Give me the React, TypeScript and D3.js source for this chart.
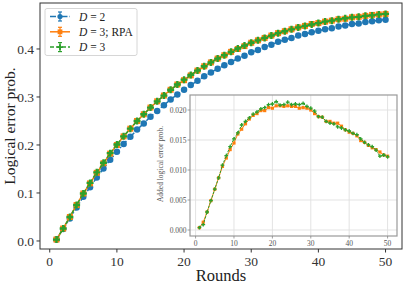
import React from "react";
import * as d3 from "d3";

// rounds 1..50
const rounds = d3.range(1, 51);

// main panel: logical error probability per round
const d2Values = [
  0.003, 0.025, 0.047, 0.070, 0.092, 0.112, 0.132, 0.151, 0.169, 0.186,
  0.202, 0.217, 0.232, 0.245, 0.259, 0.271, 0.283, 0.295, 0.305, 0.315,
  0.325, 0.334, 0.343, 0.351, 0.359, 0.366, 0.373, 0.380, 0.386, 0.393,
  0.398, 0.404, 0.409, 0.415, 0.419, 0.423, 0.428, 0.431, 0.435, 0.438,
  0.441, 0.443, 0.447, 0.449, 0.452, 0.453, 0.456, 0.458, 0.460, 0.461,
];
const d3RpaValues = [
  0.003, 0.026, 0.050, 0.075, 0.099, 0.120, 0.142, 0.162, 0.182, 0.200,
  0.218, 0.234, 0.250, 0.264, 0.278, 0.291, 0.303, 0.315, 0.326, 0.335,
  0.345, 0.355, 0.364, 0.372, 0.380, 0.387, 0.394, 0.400, 0.406, 0.413,
  0.418, 0.423, 0.428, 0.433, 0.437, 0.441, 0.445, 0.448, 0.452, 0.454,
  0.457, 0.459, 0.462, 0.463, 0.466, 0.467, 0.469, 0.471, 0.472, 0.473,
];
const d3Values = [
  0.003, 0.026, 0.050, 0.075, 0.099, 0.121, 0.143, 0.163, 0.183, 0.201,
  0.218, 0.234, 0.250, 0.264, 0.278, 0.291, 0.303, 0.315, 0.326, 0.336,
  0.346, 0.355, 0.364, 0.372, 0.380, 0.387, 0.394, 0.401, 0.407, 0.413,
  0.418, 0.423, 0.428, 0.433, 0.437, 0.441, 0.445, 0.448, 0.451, 0.454,
  0.457, 0.459, 0.462, 0.464, 0.466, 0.467, 0.469, 0.470, 0.472, 0.473,
];

// inset: added logical error probability
const addedRpa = [
  0.0004, 0.0013, 0.0030, 0.0049, 0.0068, 0.0087, 0.0106, 0.0120, 0.0134, 0.0145,
  0.0160, 0.0168, 0.0177, 0.0185, 0.0191, 0.0194, 0.0199, 0.0199, 0.0204, 0.0203,
  0.0207, 0.0207, 0.0206, 0.0207, 0.0206, 0.0206, 0.0203, 0.0204, 0.0203, 0.0200,
  0.0194, 0.0189, 0.0188, 0.0181, 0.0181, 0.0178, 0.0178, 0.0173, 0.0167, 0.0163,
  0.0161, 0.0157, 0.0149, 0.0146, 0.0141, 0.0137, 0.0134, 0.0130, 0.0125, 0.0123,
];
const added = [
  0.0004, 0.0009, 0.0030, 0.0049, 0.0068, 0.0087, 0.0108, 0.0124, 0.0139, 0.0152,
  0.0162, 0.0175, 0.0181, 0.0187, 0.0193, 0.0197, 0.0202, 0.0204, 0.0209, 0.0210,
  0.0214, 0.0208, 0.0209, 0.0213, 0.0209, 0.0210, 0.0209, 0.0211, 0.0206, 0.0203,
  0.0198, 0.0189, 0.0188, 0.0181, 0.0178, 0.0177, 0.0172, 0.0170, 0.0167, 0.0165,
  0.0161, 0.0159, 0.0152, 0.0146, 0.0142, 0.0139, 0.0133, 0.0123, 0.0125, 0.0122,
];

const xTicks = [0, 10, 20, 30, 40, 50];
const yTicks = [0.0, 0.1, 0.2, 0.3, 0.4];
const insetYTicks = [0.0, 0.005, 0.01, 0.015, 0.02];

const BLUE = "#1f77b4";
const ORANGE = "#ff7f0e";
const GREEN = "#2ca02c";
const SERIF = "'Liberation Serif', 'DejaVu Serif', serif";

const W = 407;
const H = 285;

type Marker = "circle" | "square" | "plus";

const markerPath = (kind: Marker, s: number) => {
  const h = s / 2;
  if (kind === "square") return `M${-h},${-h}H${h}V${h}H${-h}Z`;
  if (kind === "plus") {
    const t = s / 6;
    return `M${-t},${-h}H${t}V${-t}H${h}V${t}H${t}V${h}H${-t}V${t}H${-h}V${-t}H${-t}Z`;
  }
  return d3.symbol(d3.symbolCircle, Math.PI * h * h)() as string;
};

const App: React.FC = () => {
  // main axes
  const x = d3.scaleLinear().domain([-1.45, 52.45]).range([40, 402]);
  const y = d3.scaleLinear().domain([-0.0167, 0.4958]).range([249, 3]);

  // inset axes
  const ix = d3.scaleLinear().domain([-1.45, 52.45]).range([190, 397]);
  const iy = d3.scaleLinear().domain([-0.001, 0.0225]).range([236, 95]);

  const mainSeries = [
    { name: "D2", values: d2Values, color: BLUE, dash: "6,2,1.5,2", marker: "circle" as Marker, size: 6.5 },
    { name: "D3RPA", values: d3RpaValues, color: ORANGE, dash: "", marker: "square" as Marker, size: 6 },
    { name: "D3", values: d3Values, color: GREEN, dash: "4,2", marker: "plus" as Marker, size: 7 },
  ];
  const insetSeries = [
    { name: "RPA", values: addedRpa, color: ORANGE, dash: "", marker: "square" as Marker, size: 3.2 },
    { name: "D3", values: added, color: GREEN, dash: "2.5,1.2", marker: "plus" as Marker, size: 3.8 },
  ];

  const mainLine = (vals: number[]) =>
    d3.line<number>().x((_, i) => x(rounds[i])).y((d) => y(d))(vals) as string;
  const insetLine = (vals: number[]) =>
    d3.line<number>().x((_, i) => ix(rounds[i])).y((d) => iy(d))(vals) as string;

  const legendItems = [
    { label: "2", extra: "", s: mainSeries[0] },
    { label: "3", extra: "; RPA", s: mainSeries[1] },
    { label: "3", extra: "", s: mainSeries[2] },
  ];

  return (
    <svg width={W} height={H} style={{ position: "absolute", left: 0, top: 0 }} fontFamily={SERIF}>
      <rect width={W} height={H} fill="white" />

      {/* main data */}
      {mainSeries.map((s) => (
        <g key={s.name}>
          <path d={mainLine(s.values)} fill="none" stroke={s.color} strokeWidth={1.5} strokeDasharray={s.dash} />
          {s.values.map((v, i) => (
            <path key={i} d={markerPath(s.marker, s.size)} transform={`translate(${x(rounds[i])},${y(v)})`} fill={s.color} />
          ))}
        </g>
      ))}

      {/* main axes frame */}
      <rect x={40} y={3} width={362} height={246} fill="none" stroke="#333" strokeWidth={1} />
      {xTicks.map((t) => (
        <g key={t} transform={`translate(${x(t)},249)`}>
          <line y2={3.5} stroke="#333" />
          <text y={17} textAnchor="middle" fontSize={13.5} fill="#333">{t}</text>
        </g>
      ))}
      {yTicks.map((t) => (
        <g key={t} transform={`translate(40,${y(t)})`}>
          <line x2={-3.5} stroke="#333" />
          <text x={-6} dy="0.35em" textAnchor="end" fontSize={13.5} fill="#333">{t.toFixed(1)}</text>
        </g>
      ))}
      <text x={221} y={281} textAnchor="middle" fontSize={16.5} fill="#222">Rounds</text>
      <text transform="translate(15,126) rotate(-90)" textAnchor="middle" fontSize={15.5} fill="#222">
        Logical error prob.
      </text>

      {/* legend */}
      <rect x={45} y={8.5} width={92} height={47} rx={2} fill="white" fillOpacity={0.85} stroke="#ccc" strokeWidth={0.8} />
      {legendItems.map((it, k) => {
        const ly = 16.5 + k * 15.3;
        return (
          <g key={k}>
            <line x1={50} x2={70} y1={ly} y2={ly} stroke={it.s.color} strokeWidth={1.5} strokeDasharray={it.s.dash} />
            <line x1={60} x2={60} y1={ly - 4.5} y2={ly + 4.5} stroke={it.s.color} strokeWidth={1.2} />
            <line x1={58} x2={62} y1={ly - 4.5} y2={ly - 4.5} stroke={it.s.color} strokeWidth={1.2} />
            <line x1={58} x2={62} y1={ly + 4.5} y2={ly + 4.5} stroke={it.s.color} strokeWidth={1.2} />
            <path d={markerPath(it.s.marker, it.s.size * 0.8)} transform={`translate(60,${ly})`} fill={it.s.color} />
            <text x={79} y={ly} dy="0.35em" fontSize={11.5} fill="#222">
              <tspan fontStyle="italic">D</tspan>
              <tspan> = {it.label}{it.extra}</tspan>
            </text>
          </g>
        );
      })}

      {/* inset */}
      <rect x={190} y={95} width={207} height={141} fill="white" />
      {xTicks.map((t) => (
        <line key={t} x1={ix(t)} x2={ix(t)} y1={95} y2={236} stroke="#e0e0e0" strokeWidth={0.9} />
      ))}
      {insetYTicks.map((t) => (
        <line key={t} x1={190} x2={397} y1={iy(t)} y2={iy(t)} stroke="#e0e0e0" strokeWidth={0.9} />
      ))}
      {insetSeries.map((s) => (
        <g key={s.name}>
          <path d={insetLine(s.values)} fill="none" stroke={s.color} strokeWidth={1} strokeDasharray={s.dash} />
          {s.values.map((v, i) => (
            <path key={i} d={markerPath(s.marker, s.size)} transform={`translate(${ix(rounds[i])},${iy(v)})`} fill={s.color} />
          ))}
        </g>
      ))}
      <rect x={190} y={95} width={207} height={141} fill="none" stroke="#999" strokeWidth={1.2} />
      {xTicks.map((t) => (
        <g key={t} transform={`translate(${ix(t)},236)`}>
          <line y2={2.5} stroke="#888" strokeWidth={0.8} />
          <text y={10} textAnchor="middle" fontSize={7.5} fill="#555">{t}</text>
        </g>
      ))}
      {insetYTicks.map((t) => (
        <g key={t} transform={`translate(190,${iy(t)})`}>
          <line x2={-2.5} stroke="#888" strokeWidth={0.8} />
          <text x={-3.5} dy="0.35em" textAnchor="end" fontSize={7.5} fill="#555">{t.toFixed(3)}</text>
        </g>
      ))}
      <text transform="translate(163,164) rotate(-90)" textAnchor="middle" fontSize={7.5} fill="#555">
        Added logical error prob.
      </text>
    </svg>
  );
};

export default App;
